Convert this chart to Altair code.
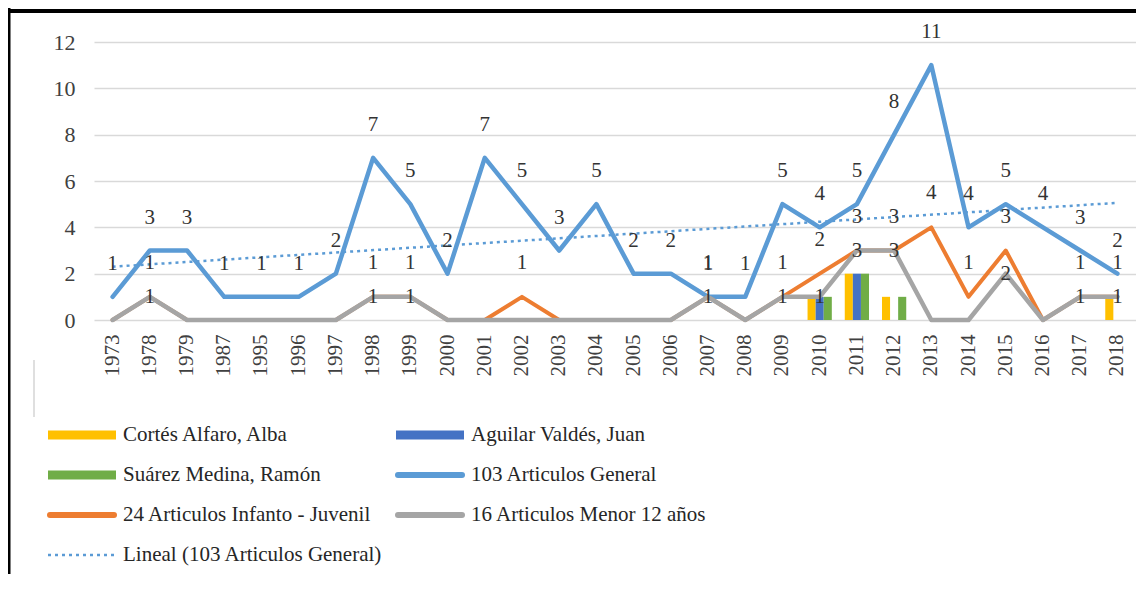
import json
import altair as alt
import pandas as pd

# ---------------- data ----------------
years = ["1973", "1978", "1979", "1987", "1995", "1996", "1997", "1998", "1999", "2000",
         "2001", "2002", "2003", "2004", "2005", "2006", "2007", "2008", "2009", "2010",
         "2011", "2012", "2013", "2014", "2015", "2016", "2017", "2018"]
general = [1, 3, 3, 1, 1, 1, 2, 7, 5, 2, 7, 5, 3, 5, 2, 2, 1, 1, 5, 4, 5, 8, 11, 4, 5, 4, 3, 2]
infanto = [0, 1, 0, 0, 0, 0, 0, 1, 1, 0, 0, 1, 0, 0, 0, 0, 1, 0, 1, 2, 3, 3, 4, 1, 3, 0, 1, 1]
menor   = [0, 1, 0, 0, 0, 0, 0, 1, 1, 0, 0, 0, 0, 0, 0, 0, 1, 0, 1, 1, 3, 3, 0, 0, 2, 0, 1, 1]
cortes  = [0, 0, 0, 0, 0, 0, 0, 0, 0, 0, 0, 0, 0, 0, 0, 0, 0, 0, 0, 1, 2, 1, 0, 0, 0, 0, 0, 1]
aguilar = [0, 0, 0, 0, 0, 0, 0, 0, 0, 0, 0, 0, 0, 0, 0, 0, 0, 0, 0, 1, 2, 0, 0, 0, 0, 0, 0, 0]
suarez  = [0, 0, 0, 0, 0, 0, 0, 0, 0, 0, 0, 0, 0, 0, 0, 0, 0, 0, 0, 1, 2, 1, 0, 0, 0, 0, 0, 0]

bar_names = ["Cortés Alfaro, Alba", "Aguilar Valdés, Juan", "Suárez Medina, Ramón"]
legend_names = ["Cortés Alfaro, Alba", "Aguilar Valdés, Juan", "Suárez Medina, Ramón",
                "103 Articulos General", "24 Articulos Infanto - Juvenil",
                "16 Articulos Menor 12 años", "Lineal (103 Articulos General)"]
legend_kinds = ["bar", "bar", "bar", "line", "line", "line", "trend"]
colors = ["#FFC000", "#4472C4", "#70AD47", "#5B9BD5", "#ED7D31", "#A5A5A5", "#5B9BD5"]

FONT = "'Liberation Serif', 'Times New Roman', 'DejaVu Serif', serif"
TXT = "#333333"

df = pd.DataFrame({
    "year": years, "idx": list(range(len(years))),
    "general": general, "infanto": infanto, "menor": menor,
    bar_names[0]: cortes, bar_names[1]: aguilar, bar_names[2]: suarez,
})

color_scale = alt.Scale(domain=legend_names, range=colors)

x_axis = alt.Axis(labelAngle=-90, labelFont=FONT, labelFontSize=21, labelColor="#404040",
                  ticks=False, tickSize=0, domain=False, grid=False, labelPadding=14)
x_scale = alt.Scale(type="band", domain=years, paddingInner=0, paddingOuter=0)
y_scale = alt.Scale(domain=[0, 12], nice=False, zero=True)
y_axis = alt.Axis(values=[0, 2, 4, 6, 8, 10, 12], labelFont=FONT, labelFontSize=22,
                  labelColor="#404040", ticks=False, domain=False, gridColor="#D9D9D9",
                  gridWidth=1.3, labelPadding=19)


def xe(field="year"):
    return alt.X(f"{field}:N", sort=years, scale=x_scale, axis=x_axis, title=None, bandPosition=0.5)


base = alt.Chart(df)

bars = base.transform_fold(bar_names, as_=["key", "val"]).mark_bar().encode(
    x=alt.X("year:N", sort=years, scale=x_scale, axis=x_axis, title=None),
    xOffset=alt.XOffset("key:N", sort=bar_names,
                        scale=alt.Scale(domain=bar_names, paddingInner=0, paddingOuter=0.8)),
    y=alt.Y("val:Q", scale=y_scale, axis=y_axis, title=None),
    color=alt.Color("key:N", scale=color_scale, legend=None),
)

def line(field, color, width):
    return base.mark_line(color=color, strokeWidth=width, strokeJoin="round", strokeCap="round").encode(
        x=xe(), y=alt.Y(f"{field}:Q", scale=y_scale, axis=y_axis, title=None))

l_gen = line("general", "#5B9BD5", 4.5)
l_inf = line("infanto", "#ED7D31", 4)
l_men = line("menor", "#A5A5A5", 4.5)

trend = base.transform_regression("idx", "general", method="linear").transform_calculate(
    year=f"{json.dumps(years)}[datum.idx]"
).mark_line(color="#5B9BD5", strokeWidth=2.5, strokeDash=[3, 4]).encode(
    x=xe(), y=alt.Y("general:Q", scale=y_scale, axis=y_axis, title=None))

def labels(field, dy):
    return base.transform_filter(f"datum.{field} > 0").mark_text(
        font=FONT, fontSize=21, color=TXT, dy=dy, baseline="middle", align="center").encode(
        x=xe(), y=alt.Y(f"{field}:Q", scale=y_scale, axis=y_axis, title=None),
        text=alt.Text(f"{field}:Q"))

t_gen = labels("general", -33)
t_inf = labels("infanto", -34)
t_men = labels("menor", 0)

main = alt.layer(bars, l_gen, l_inf, l_men, trend, t_gen, t_inf, t_men)

# ---------------- manual legend ----------------
leg_df = pd.DataFrame({"name": legend_names, "kind": legend_kinds, "i": list(range(len(legend_names)))})
leg = alt.Chart(leg_df).transform_calculate(row="floor(datum.i / 2)", col="datum.i % 2")
lx = alt.X("col:Q", scale=alt.Scale(domain=[0, 1], range=[-12, 336], nice=False, zero=False), axis=None)
ly = alt.Y("row:Q", scale=alt.Scale(domain=[0, 3], range=[393, 513], nice=False, zero=False), axis=None)
lc = alt.Color("name:N", scale=color_scale, legend=None)

sym_bar = leg.transform_filter("datum.kind == 'bar'").mark_rule(
    strokeWidth=9, xOffset=-34, x2Offset=34).encode(x=lx, x2="col:Q", y=ly, color=lc)
sym_line = leg.transform_filter("datum.kind == 'line'").mark_rule(
    strokeWidth=6, strokeCap="round", xOffset=-32, x2Offset=32).encode(x=lx, x2="col:Q", y=ly, color=lc)
sym_trend = leg.transform_filter("datum.kind == 'trend'").mark_rule(
    strokeWidth=2.5, strokeDash=[3, 4], xOffset=-34, x2Offset=34).encode(x=lx, x2="col:Q", y=ly, color=lc)
sym_text = leg.mark_text(align="left", baseline="middle", dx=41, font=FONT, fontSize=21,
                         color="#262626").encode(x=lx, y=ly, text="name:N")
legend_layer = alt.layer(sym_bar, sym_line, sym_trend, sym_text)

# ---------------- decoration (frame) ----------------
one = alt.Data(values=[{"a": 1}])
frame_top = alt.Chart(one).mark_rule(color="black", strokeWidth=4).encode(
    x=alt.value(-86), x2=alt.value(1042), y=alt.value(-31))
frame_left = alt.Chart(one).mark_rule(color="black", strokeWidth=4).encode(
    x=alt.value(-85.5), y=alt.value(-34), y2=alt.value(540))
artifact = alt.Chart(one).mark_rule(color="#D4D4D4", strokeWidth=1.5).encode(
    x=alt.value(-60), y=alt.value(318), y2=alt.value(375))

chart = alt.layer(main, legend_layer, frame_top, frame_left, artifact).resolve_scale(
    x="independent", y="independent", color="independent"
).properties(
    width=1042, height=278,
    padding={"left": 86, "top": 34, "right": 0, "bottom": 254},
    autosize=alt.AutoSizeParams(type="none"),
    background="white",
).configure_view(strokeWidth=0)

chart.save("out.html", embed_options={"renderer": "svg", "actions": False})
